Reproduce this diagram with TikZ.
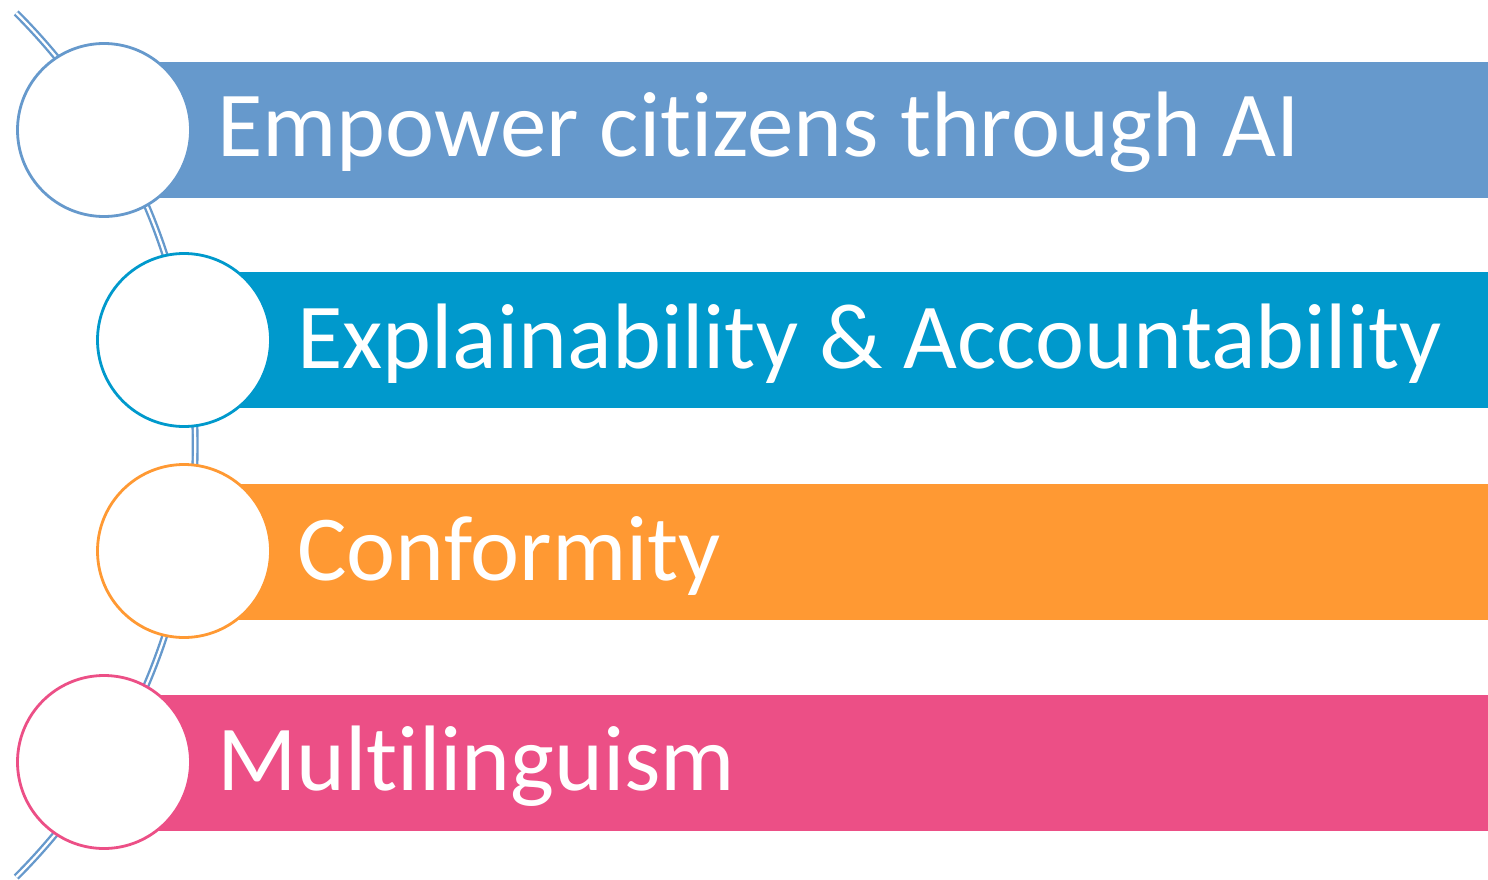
\documentclass[tikz,border=0pt]{standalone}
\usepackage{fontspec}
\setmainfont{Carlito}[Ligatures=NoCommon]
\definecolor{cA}{RGB}{102,153,204}
\definecolor{cB}{RGB}{0,153,204}
\definecolor{cC}{RGB}{255,153,51}
\definecolor{cD}{RGB}{236,79,134}
\definecolor{arcc}{RGB}{102,153,204}
\begin{document}
\begin{tikzpicture}[x=1pt,y=-1pt,
  bar/.style={anchor=north west,minimum width=1400pt,minimum height=136pt,inner sep=0pt,outer sep=0pt},
  ring/.style={circle,draw,fill=white,line width=2.8pt,minimum size=173pt,inner sep=0pt},
  label/.style={anchor=base west,text=white,font=\fontsize{93}{100}\selectfont,inner sep=0pt}]
\useasboundingbox (0,0) rectangle (1488,880);
\coordinate (arccenter) at (-415.8,445);
\draw[arcc,line width=2.4pt,double=white,double distance=2.2pt] (arccenter) ++(45:611) arc[start angle=45,end angle=-45,radius=611];
\node[bar,fill=cA] (b1) at (150,62) {};
\node[bar,fill=cB] (b2) at (230,272) {};
\node[bar,fill=cC] (b3) at (230,484) {};
\node[bar,fill=cD] (b4) at (150,695) {};
\node[ring,draw=cA] (c1) at (104,130) {};
\node[ring,draw=cB] (c2) at (184,340) {};
\node[ring,draw=cC] (c3) at (184,551) {};
\node[ring,draw=cD] (c4) at (104,762) {};
\node[label] (t1) at (217,157) {Empower citizens through AI};
\node[label] (t2) at (297,368) {Explainability \& Accountability};
\node[label] (t3) at (297,580) {Conformity};
\node[label] (t4) at (217,790) {Multilinguism};
\end{tikzpicture}
\end{document}
